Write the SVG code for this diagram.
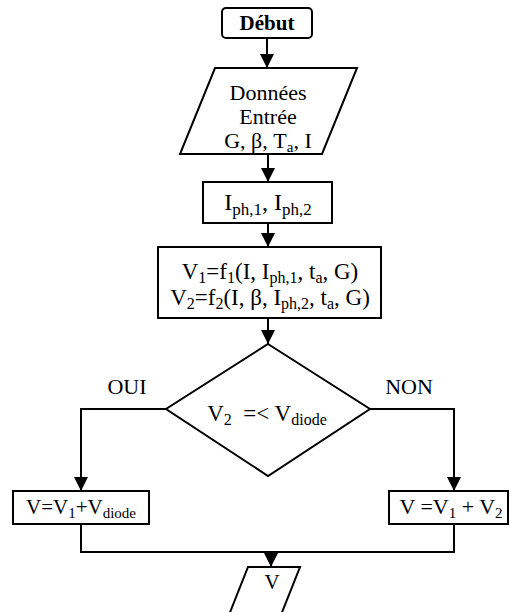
<svg xmlns="http://www.w3.org/2000/svg" width="510" height="612" viewBox="0 0 510 612">
<defs>
<style>
.shape{fill:#fff;stroke:#000;stroke-width:2}
.ln{fill:none;stroke:#000;stroke-width:2}
.t{font-family:"Liberation Serif","Times New Roman",serif;fill:#000;text-anchor:middle}
.s{font-size:15px}
</style>
<marker id="ah" markerUnits="userSpaceOnUse" markerWidth="14" markerHeight="14" refX="14" refY="7" orient="auto">
<path d="M0,0 L14,7 L0,14 Z" fill="#000"/>
</marker>
</defs>
<rect width="510" height="612" fill="#fff"/>
<g id="connectors">
<line class="ln" x1="267" y1="38" x2="267" y2="68" marker-end="url(#ah)"/>
<line class="ln" x1="268" y1="154" x2="268" y2="182" marker-end="url(#ah)"/>
<line class="ln" x1="268" y1="223" x2="268" y2="247" marker-end="url(#ah)"/>
<line class="ln" x1="268" y1="318" x2="268" y2="344" marker-end="url(#ah)"/>
<polyline class="ln" points="166,409 81,409 81,491" marker-end="url(#ah)"/>
<polyline class="ln" points="370,409 454,409 454,491" marker-end="url(#ah)"/>
<polyline class="ln" points="81,524 81,552 454,552 454,524"/>
<line class="ln" x1="271" y1="552" x2="271" y2="567" marker-end="url(#ah)"/>
</g>
<g id="debut">
<rect class="shape" x="222" y="8" width="90" height="30" rx="4"/>
<text class="t" x="267" y="30" font-size="21" font-weight="bold">Début</text>
</g>
<g id="donnees">
<polygon class="shape" points="215,68 357,68 322,154 180,154"/>
<text class="t" x="268" y="100" font-size="22">Données</text>
<text class="t" x="268" y="124" font-size="22">Entrée</text>
<text class="t" x="268" y="148" font-size="22">G, β, T<tspan class="s" dy="4">a</tspan><tspan dy="-4">, I</tspan></text>
</g>
<g id="iph">
<rect class="shape" x="203" y="182" width="129" height="41"/>
<text class="t" x="268" y="210" font-size="24">I<tspan font-size="17" dy="5">ph,1</tspan><tspan dy="-5">, I</tspan><tspan font-size="17" dy="5">ph,2</tspan></text>
</g>
<g id="calcul">
<rect class="shape" x="158" y="247" width="223" height="71"/>
<text class="t" x="270" y="279" font-size="23">V<tspan font-size="16" dy="4">1</tspan><tspan dy="-4">=f</tspan><tspan font-size="16" dy="4">1</tspan><tspan dy="-4">(I, I</tspan><tspan font-size="16" dy="4">ph,1</tspan><tspan dy="-4">, t</tspan><tspan font-size="16" dy="4">a</tspan><tspan dy="-4">, G)</tspan></text>
<text class="t" x="270" y="305" font-size="23">V<tspan font-size="16" dy="4">2</tspan><tspan dy="-4">=f</tspan><tspan font-size="16" dy="4">2</tspan><tspan dy="-4">(I, β, I</tspan><tspan font-size="16" dy="4">ph,2</tspan><tspan dy="-4">, t</tspan><tspan font-size="16" dy="4">a</tspan><tspan dy="-4">, G)</tspan></text>
</g>
<g id="decision">
<polygon class="shape" points="268,344 370,409 268,476 166,409"/>
<text class="t" x="267" y="421" font-size="23" xml:space="preserve">V<tspan font-size="16" dy="4">2</tspan><tspan dy="-4">  =&lt; V</tspan><tspan font-size="16" dy="4">diode</tspan></text>
</g>
<g id="labels">
<text class="t" x="127" y="394" font-size="22">OUI</text>
<text class="t" x="409" y="394" font-size="22">NON</text>
</g>
<g id="oui-box">
<rect class="shape" x="13" y="491" width="136" height="33"/>
<text class="t" x="81" y="514" font-size="21">V=V<tspan class="s" dy="4">1</tspan><tspan dy="-4">+V</tspan><tspan class="s" dy="4">diode</tspan></text>
</g>
<g id="non-box">
<rect class="shape" x="389" y="491" width="119" height="33"/>
<text class="t" x="451" y="514" font-size="22">V =V<tspan class="s" dy="4">1</tspan><tspan dy="-4"> + V</tspan><tspan class="s" dy="4">2</tspan></text>
</g>
<g id="sortie">
<polygon class="shape" points="248,567 300,567 277,625 225,625"/>
<text class="t" x="272" y="589" font-size="21">V</text>
</g>
</svg>
